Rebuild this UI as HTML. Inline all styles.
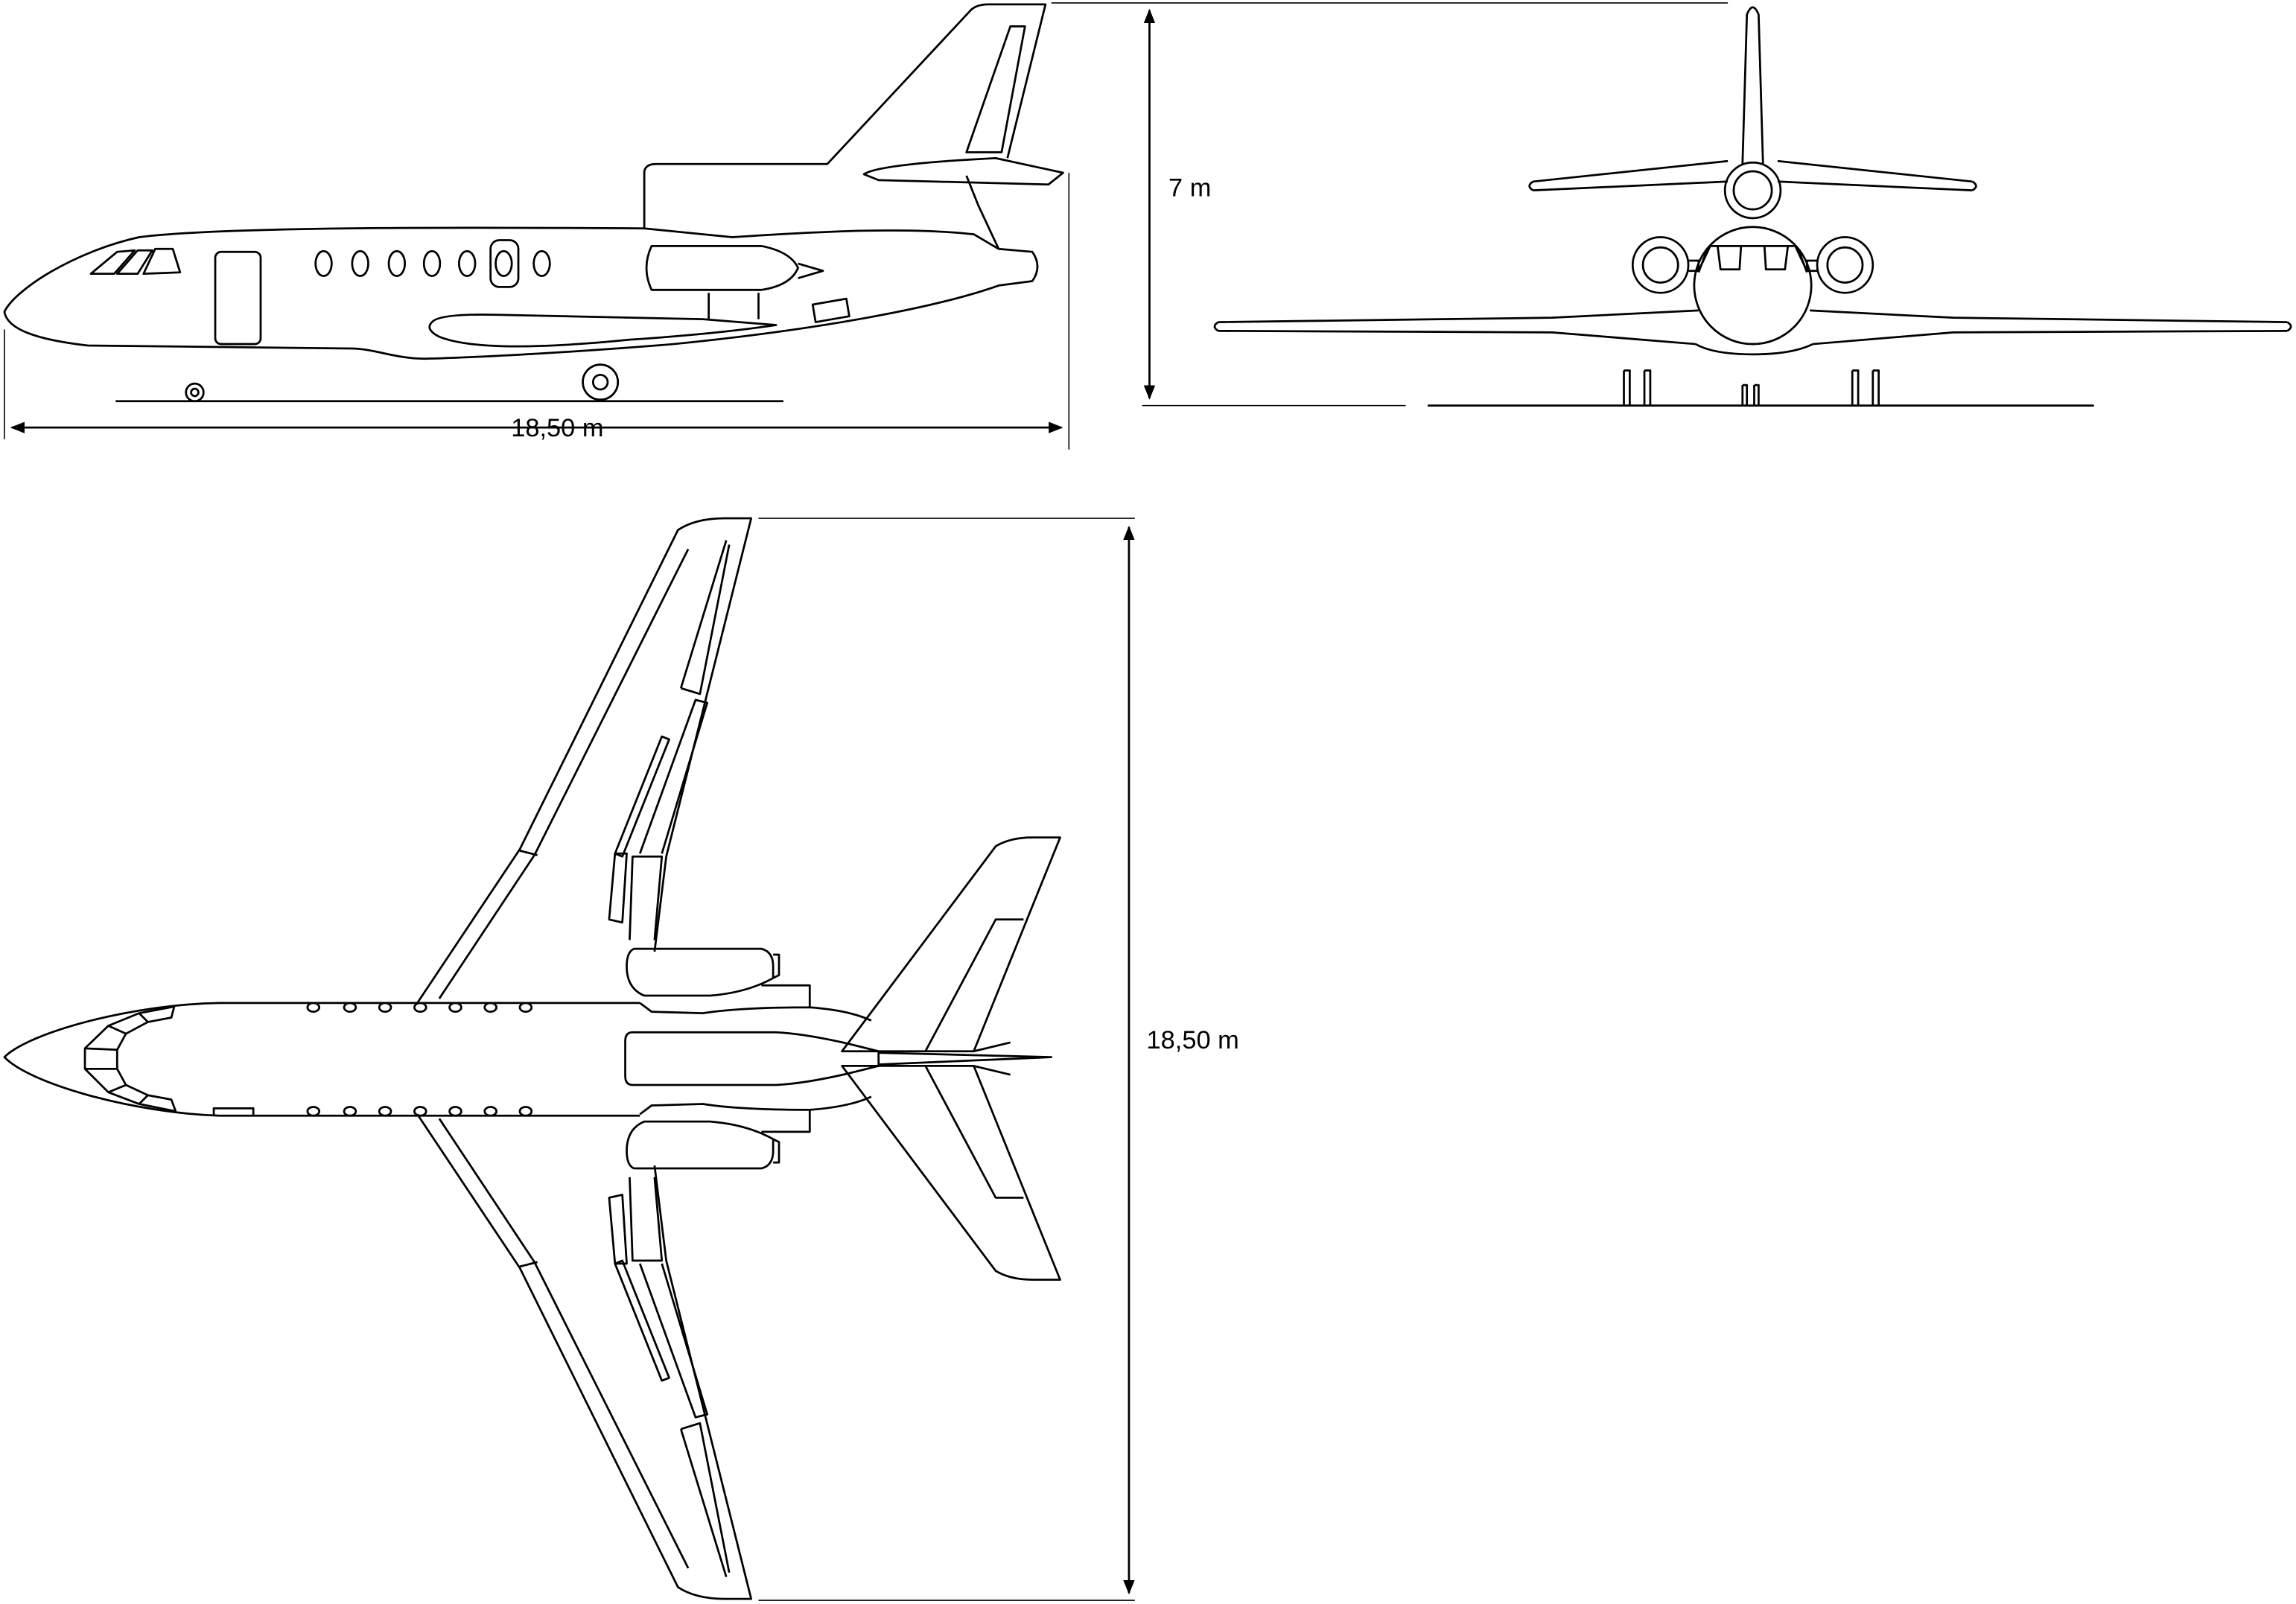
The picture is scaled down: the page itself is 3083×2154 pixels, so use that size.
<!DOCTYPE html>
<html><head><style>html,body{margin:0;padding:0;background:#fff}svg{display:block}</style></head>
<body>
<svg width="3083" height="2154" viewBox="0 0 1568 1095.5" preserveAspectRatio="none" xmlns="http://www.w3.org/2000/svg">
<defs>
<marker id="ar" viewBox="0 0 10 10" refX="9" refY="5" markerWidth="7" markerHeight="7" orient="auto-start-reverse"><path d="M0,1 L10,5 L0,9 Z" fill="#000"/></marker>
</defs>
<g fill="none" stroke="#000" stroke-width="1.4" stroke-linejoin="round">
<!-- SIDE VIEW -->
<path d="M3,213 C10,198 50,172 95,162 C150,155 300,155 440,156 L500,162 C560,158 620,155 665,160 L682,170 L705,172 Q712,182 705,192 L682,195 C640,210 560,225 460,235 C400,240 330,244 290,245 C270,245 255,238 240,238 L60,236 C25,232 5,225 3,213 Z"/>
<path d="M440,156 L440,117 Q441,112 448,112 L565,112 L662,8 Q666,3 675,3 L714,3 L688,108"/>
<path d="M660,104 L690,18 L700,18 L684,104 Z"/>
<path d="M590,119 Q600,112 680,108 L726,118 L716,126 L600,123 Z"/>
<path d="M660,120 L668,140 L682,170"/>
<path d="M445,168 L520,168 Q540,172 545,183 Q540,195 520,198 L445,198 Q438,183 445,168 Z"/>
<path d="M545,180 L562,185 L545,190"/>
<path d="M484,200 L484,218 M518,200 L518,218"/>
<path d="M295,220 Q300,214 340,215 L480,218 L530,222 Q490,228 430,232 Q330,242 300,230 Q290,225 295,220 Z"/>
<path d="M555,208 L578,204 L580,216 L557,220 Z"/>
<rect x="147" y="172" width="31" height="63" rx="4"/>
<ellipse cx="221" cy="180" rx="5.5" ry="8.5"/><ellipse cx="246" cy="180" rx="5.5" ry="8.5"/><ellipse cx="271" cy="180" rx="5.5" ry="8.5"/><ellipse cx="295" cy="180" rx="5.5" ry="8.5"/><ellipse cx="319" cy="180" rx="5.5" ry="8.5"/><ellipse cx="370" cy="180" rx="5.5" ry="8.5"/>
<rect x="335" y="164" width="19" height="32" rx="6"/><ellipse cx="344" cy="180" rx="5.5" ry="8.5"/>
<path d="M62,187 L80,172 L92,171 L78,187 Z M80,187 L94,171 L104,171 L94,187 Z M98,187 L106,170 L118,170 L123,186 Z"/>
<path d="M79,274 L535,274"/>
<circle cx="133" cy="268" r="6"/><circle cx="133" cy="268" r="2.5"/>
<circle cx="410" cy="261" r="12"/><circle cx="410" cy="261" r="5"/>
<path d="M3,225 L3,300 M730,118 L730,307" stroke-width="0.8"/>
<path d="M8,292 L725,292" marker-start="url(#ar)" marker-end="url(#ar)"/>
<path d="M718,2 L1180,2 M780,277 L960,277" stroke-width="0.8"/>
<path d="M785,7 L785,272" marker-start="url(#ar)" marker-end="url(#ar)"/>
<!-- FRONT VIEW -->
<path d="M975,277 L1430,277"/>
<path d="M832,220 L1060,217 L1160,212 M832,226 L1060,227 L1158,235 M1236,212 L1334,217 L1562,220 M1238,235 L1334,227 L1562,226"/>
<path d="M832,220 Q827,223 832,226 M1562,220 Q1567,223 1562,226"/>
<path d="M1158,235 Q1170,242 1197,242 Q1224,242 1238,235"/>
<circle cx="1197" cy="195" r="40"/>
<path d="M1190,112 L1193,10 Q1197,0 1201,10 L1204,112"/>
<path d="M1047,124 L1180,110 M1047,130 L1180,124 M1214,110 L1347,124 M1214,124 L1347,130 M1047,124 Q1042,127 1047,130 M1347,124 Q1352,127 1347,130"/>
<circle cx="1197" cy="130" r="19"/><circle cx="1197" cy="130" r="13"/>
<circle cx="1134" cy="181" r="19"/><circle cx="1134" cy="181" r="12"/>
<circle cx="1260" cy="181" r="19"/><circle cx="1260" cy="181" r="12"/>
<path d="M1153,178 L1160,178 L1160,185 L1153,185 M1241,178 L1234,178 L1234,185 L1241,185"/>
<path d="M1160,185 L1168,168 L1226,168 L1234,185 M1173,168 L1175,184 L1188,184 L1189,168 M1205,168 L1206,184 L1219,184 L1221,168 M1166,170 L1160,186 M1228,170 L1234,186"/>
<path d="M1109,253 h4 v24 M1109,253 v24 M1123,253 h4 v24 M1123,253 v24 M1265,253 h4 v24 M1265,253 v24 M1279,253 h4 v24 M1279,253 v24 M1190,263 h3 v14 M1190,263 v14 M1198,263 h3 v14 M1198,263 v14"/>
<!-- TOP VIEW -->
<path d="M150,685 L437,685 M150,762 L437,762 M150,685 C90,686 20,705 3,722 C20,740 90,760 150,762"/>
<path d="M119,687.5 L95,692 L74,700.6 L58,716 L58,730 L74,746 L95,754 L120,759"/>
<path d="M119,687.5 L117,695 L101,698 L86,706 L80,717 L80,730 L86,741 L101,748 L117,751 L120,759"/>
<path d="M95,692 L101,698 M74,700.6 L86,706 M58,716 L80,717 M58,730 L80,730 M74,746 L86,741 M95,754 L101,748"/>
<path d="M146,762 L146,757 L173,757 L173,762"/>
<g>
<ellipse cx="214" cy="688" rx="4" ry="3"/><ellipse cx="239" cy="688" rx="4" ry="3"/><ellipse cx="263" cy="688" rx="4" ry="3"/><ellipse cx="287" cy="688" rx="4" ry="3"/><ellipse cx="311" cy="688" rx="4" ry="3"/><ellipse cx="335" cy="688" rx="4" ry="3"/><ellipse cx="359" cy="688" rx="4" ry="3"/>
<ellipse cx="214" cy="759" rx="4" ry="3"/><ellipse cx="239" cy="759" rx="4" ry="3"/><ellipse cx="263" cy="759" rx="4" ry="3"/><ellipse cx="287" cy="759" rx="4" ry="3"/><ellipse cx="311" cy="759" rx="4" ry="3"/><ellipse cx="335" cy="759" rx="4" ry="3"/><ellipse cx="359" cy="759" rx="4" ry="3"/>
</g>
<!-- upper wing -->
<path d="M285,685 L355,580 L463,362 Q475,354 495,354 L513,354 L455,585 L447,650"/>
<path d="M300,682 L365,584 L470,375 M367,584 L355,581"/>
<path d="M465,470 L496,369 M465,470 L478,474 L498,372"/>
<path d="M420,583 L452,503 L457,505 L425,585 Z M437,583 L475,478 L483,480 L452,583"/>
<path d="M416,628 L420,583 L428,583 L425,630 Z M430,642 L432,585 L452,585 L447,642"/>
<!-- lower wing mirror -->
<path d="M285,761 L355,866 L463,1084 Q475,1092 495,1092 L513,1092 L455,861 L447,796"/>
<path d="M300,764 L365,862 L470,1071 M367,862 L355,865"/>
<path d="M465,976 L496,1077 M465,976 L478,972 L498,1074"/>
<path d="M420,863 L452,943 L457,941 L425,861 Z M437,863 L475,968 L483,966 L452,863"/>
<path d="M416,818 L420,863 L428,863 L425,816 Z M430,804 L432,861 L452,861 L447,804"/>
<!-- engines -->
<path d="M433,648 L520,648 Q528,650 528,660 L528,668 Q510,678 485,680 L440,680 Q428,675 428,660 Q428,650 433,648 Z M528,652 L532,652 L532,666 L528,668"/>
<path d="M437,685 L445,691 L480,692 Q505,688 553,688 L553,673 L520,673 M553,688 Q580,690 595,697"/>
<path d="M433,798 L520,798 Q528,796 528,786 L528,778 Q510,768 485,766 L440,766 Q428,771 428,786 Q428,796 433,798 Z M528,794 L532,794 L532,780 L528,778"/>
<path d="M437,761 L445,755 L480,754 Q505,758 553,758 L553,773 L520,773 M553,758 Q580,756 595,749"/>
<!-- center body -->
<path d="M432,705 L530,705 Q550,706 580,713 L600,718 L600,728 L580,733 Q550,740 530,741 L432,741 Q427,741 427,735 L427,711 Q427,705 432,705 Z"/>
<!-- horizontal tail -->
<path d="M575,718 L680,578 Q690,572 705,572 L724,572 L665,718 Z M632,718 L680,628 L699,628 M690,712 L665,718"/>
<path d="M575,728 L680,868 Q690,874 705,874 L724,874 L665,728 Z M632,728 L680,818 L699,818 M690,734 L665,728"/>
<path d="M600,719 L718,722 L600,727"/>
<path d="M518,354 L775,354 M518,1093 L775,1093" stroke-width="0.8"/>
<path d="M771,360 L771,1088" marker-start="url(#ar)" marker-end="url(#ar)"/>
</g>
<g font-family="Liberation Sans, sans-serif" font-size="17.5" fill="#000">
<text x="349" y="298">18,50 m</text>
<text x="798" y="134">7 m</text>
<text x="783" y="716">18,50 m</text>
</g>
</svg>
</body></html>
